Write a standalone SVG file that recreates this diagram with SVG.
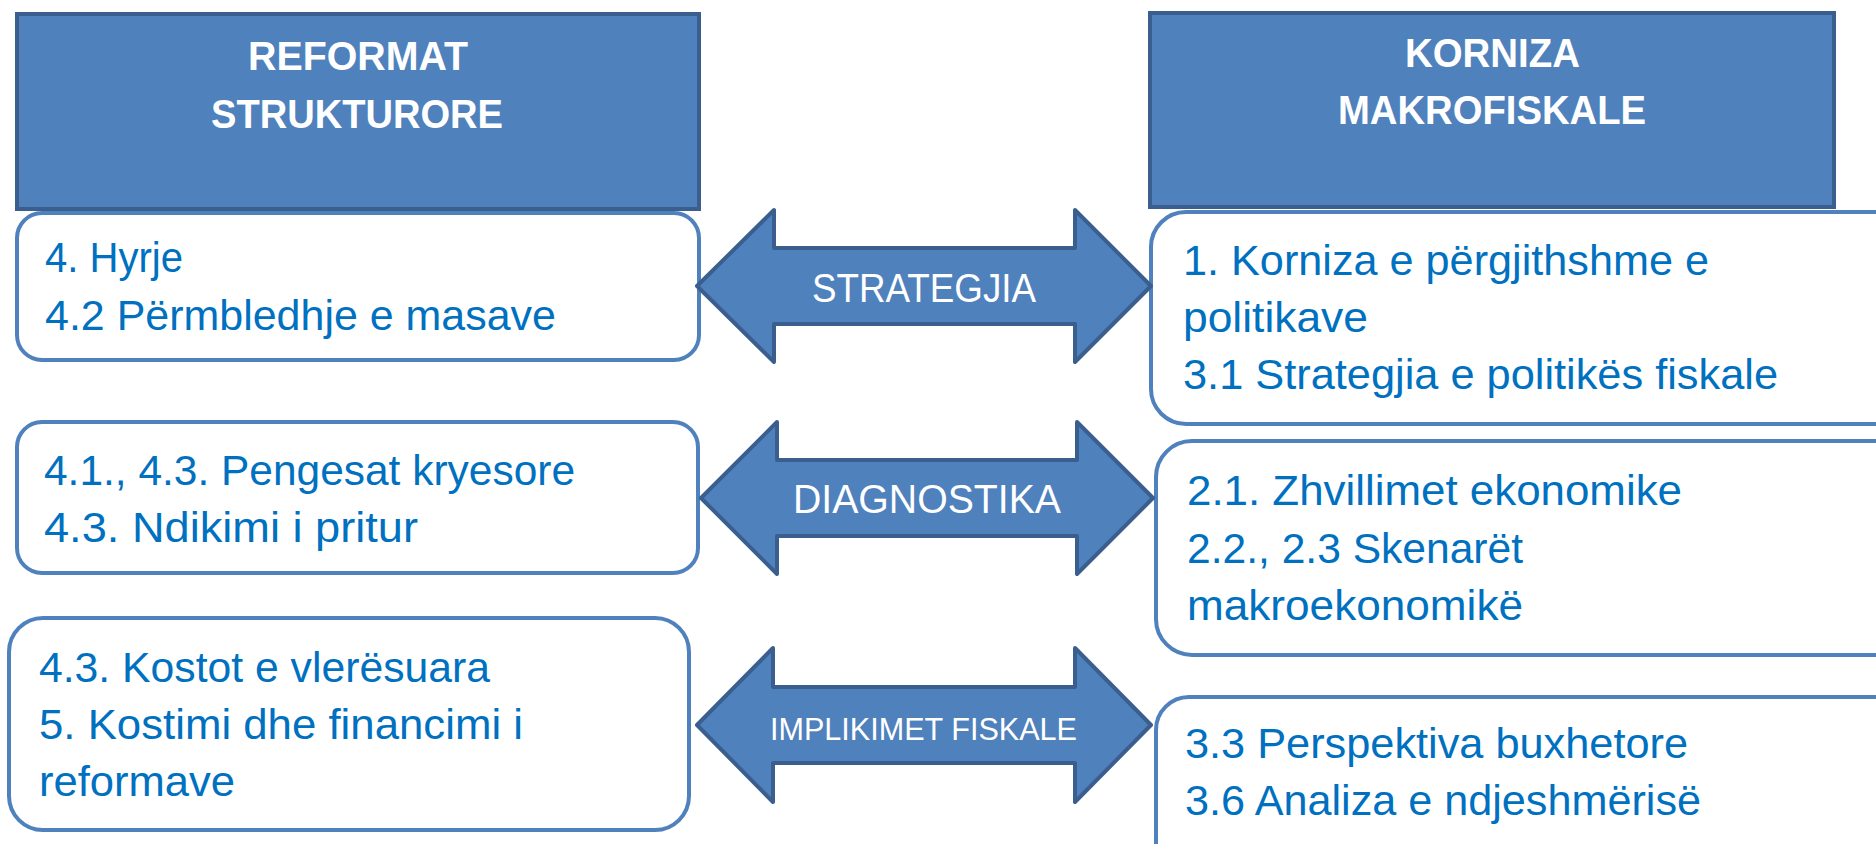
<svg xmlns="http://www.w3.org/2000/svg" width="1876" height="844" viewBox="0 0 1876 844">
<style>
.hdr{fill:#4F81BD;stroke:#3A5F8E;stroke-width:4}
.box{fill:#FFFFFF;stroke:#4F81BD;stroke-width:4}
.arr{fill:#4F81BD;stroke:#3A5F8E;stroke-width:4;stroke-linejoin:round}
.ht{font-family:"Liberation Sans",Arial,sans-serif;font-weight:bold;font-size:40px;fill:#FFFFFF}
.bt{font-family:"Liberation Sans",Arial,sans-serif;font-size:42px;fill:#0070C0}
.at{font-family:"Liberation Sans",Arial,sans-serif;font-size:40px;fill:#FFFFFF}
.at2{font-family:"Liberation Sans",Arial,sans-serif;font-size:31px;fill:#FFFFFF}
</style>
<rect width="1876" height="844" fill="#FFFFFF"/>
<g id="hdr-left">
<rect class="hdr" x="17" y="14" width="682" height="195"/>
<text class="ht" x="248" y="70" textLength="220" lengthAdjust="spacingAndGlyphs">REFORMAT</text>
<text class="ht" x="211" y="128" textLength="292" lengthAdjust="spacingAndGlyphs">STRUKTURORE</text>
</g>
<g id="hdr-right">
<rect class="hdr" x="1150" y="13" width="684" height="194"/>
<text class="ht" x="1405" y="67" textLength="175" lengthAdjust="spacingAndGlyphs">KORNIZA</text>
<text class="ht" x="1338" y="124" textLength="308" lengthAdjust="spacingAndGlyphs">MAKROFISKALE</text>
</g>
<g id="box-l1">
<rect class="box" x="17" y="213" width="682" height="147" rx="25"/>
<text class="bt" x="45" y="272" textLength="138" lengthAdjust="spacingAndGlyphs">4. Hyrje</text>
<text class="bt" x="45" y="330" textLength="511" lengthAdjust="spacingAndGlyphs">4.2 Përmbledhje e masave</text>
</g>
<g id="box-l2">
<rect class="box" x="17" y="422" width="681" height="151" rx="25"/>
<text class="bt" x="44" y="485" textLength="531" lengthAdjust="spacingAndGlyphs">4.1., 4.3. Pengesat kryesore</text>
<text class="bt" x="44" y="542" textLength="374" lengthAdjust="spacingAndGlyphs">4.3. Ndikimi i pritur</text>
</g>
<g id="box-l3">
<rect class="box" x="9" y="618" width="680" height="212" rx="34"/>
<text class="bt" x="39" y="682" textLength="451" lengthAdjust="spacingAndGlyphs">4.3. Kostot e vlerësuara</text>
<text class="bt" x="39" y="739" textLength="484" lengthAdjust="spacingAndGlyphs">5. Kostimi dhe financimi i</text>
<text class="bt" x="39" y="796" textLength="196" lengthAdjust="spacingAndGlyphs">reformave</text>
</g>
<g id="box-r1">
<rect class="box" x="1151" y="212" width="760" height="212" rx="35"/>
<text class="bt" x="1183" y="275" textLength="526" lengthAdjust="spacingAndGlyphs">1. Korniza e përgjithshme e</text>
<text class="bt" x="1183" y="332" textLength="185" lengthAdjust="spacingAndGlyphs">politikave</text>
<text class="bt" x="1183" y="389" textLength="595" lengthAdjust="spacingAndGlyphs">3.1 Strategjia e politikës fiskale</text>
</g>
<g id="box-r2">
<rect class="box" x="1156" y="441" width="760" height="214" rx="36"/>
<text class="bt" x="1187" y="505" textLength="495" lengthAdjust="spacingAndGlyphs">2.1. Zhvillimet ekonomike</text>
<text class="bt" x="1187" y="563" textLength="336" lengthAdjust="spacingAndGlyphs">2.2., 2.3 Skenarët</text>
<text class="bt" x="1187" y="620" textLength="336" lengthAdjust="spacingAndGlyphs">makroekonomikë</text>
</g>
<g id="box-r3">
<rect class="box" x="1156" y="697" width="760" height="200" rx="33"/>
<text class="bt" x="1185" y="758" textLength="503" lengthAdjust="spacingAndGlyphs">3.3 Perspektiva buxhetore</text>
<text class="bt" x="1185" y="815" textLength="516" lengthAdjust="spacingAndGlyphs">3.6 Analiza e ndjeshmërisë</text>
</g>
<g id="connectors">
<g id="arrow-strategjia">
<path class="arr" d="M697,286 L774,210 L774,248 L1075,248 L1075,210 L1151,286 L1075,362 L1075,324 L774,324 L774,362 Z"/>
<text class="at" x="812" y="302" textLength="224" lengthAdjust="spacingAndGlyphs">STRATEGJIA</text>
</g>
<g id="arrow-diagnostika">
<path class="arr" d="M701,498 L777,422 L777,460 L1077,460 L1077,422 L1153,498 L1077,574 L1077,536 L777,536 L777,574 Z"/>
<text class="at" x="793" y="513" textLength="268" lengthAdjust="spacingAndGlyphs">DIAGNOSTIKA</text>
</g>
<g id="arrow-implikimet">
<path class="arr" d="M697,725 L773,648 L773,687 L1075,687 L1075,648 L1151,725 L1075,802 L1075,763 L773,763 L773,802 Z"/>
<text class="at2" x="770" y="740" textLength="307" lengthAdjust="spacingAndGlyphs">IMPLIKIMET FISKALE</text>
</g>
</g>
</svg>
